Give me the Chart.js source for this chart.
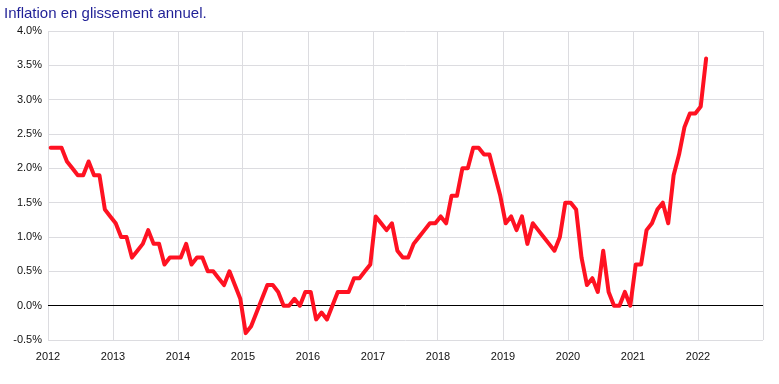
<!DOCTYPE html>
<html lang="fr">
<head>
<meta charset="utf-8">
<title>Inflation en glissement annuel</title>
<script src="https://cdn.jsdelivr.net/npm/chart.js@4.4.1/dist/chart.umd.min.js"></script>
<style>
  html, body { margin: 0; padding: 0; background: #fff; }
  #wrap { width: 779px; height: 384px; }
</style>
</head>
<body>
<div id="wrap"><canvas id="chart"></canvas></div>
<script>
// Inflation en glissement annuel (%), un chiffre par mois, janvier 2012 -> février 2022
const inflation2012 = [2.3, 2.3, 2.3, 2.1, 2.0, 1.9, 1.9, 2.1, 1.9, 1.9, 1.4, 1.3];
const inflation2013 = [1.2, 1.0, 1.0, 0.7, 0.8, 0.9, 1.1, 0.9, 0.9, 0.6, 0.7, 0.7];
const inflation2014 = [0.7, 0.9, 0.6, 0.7, 0.7, 0.5, 0.5, 0.4, 0.3, 0.5, 0.3, 0.1];
const inflation2015 = [-0.4, -0.3, -0.1, 0.1, 0.3, 0.3, 0.2, 0.0, 0.0, 0.1, 0.0, 0.2];
const inflation2016 = [0.2, -0.2, -0.1, -0.2, 0.0, 0.2, 0.2, 0.2, 0.4, 0.4, 0.5, 0.6];
const inflation2017 = [1.3, 1.2, 1.1, 1.2, 0.8, 0.7, 0.7, 0.9, 1.0, 1.1, 1.2, 1.2];
const inflation2018 = [1.3, 1.2, 1.6, 1.6, 2.0, 2.0, 2.3, 2.3, 2.2, 2.2, 1.9, 1.6];
const inflation2019 = [1.2, 1.3, 1.1, 1.3, 0.9, 1.2, 1.1, 1.0, 0.9, 0.8, 1.0, 1.5];
const inflation2020 = [1.5, 1.4, 0.7, 0.3, 0.4, 0.2, 0.8, 0.2, 0.0, 0.0, 0.2, 0.0];
const inflation2021 = [0.6, 0.6, 1.1, 1.2, 1.4, 1.5, 1.2, 1.9, 2.2, 2.6, 2.8, 2.8];
const inflation2022 = [2.9, 3.6];

// Etiquettes des axes
const anneesAxe = ['2012', '2013', '2014', '2015', '2016', '2017', '2018', '2019', '2020', '2021', '2022', ''];
const graduationsY = [-0.5, 0.0, 0.5, 1.0, 1.5, 2.0, 2.5, 3.0, 3.5, 4.0];

const titre = 'Inflation en glissement annuel.';

// Mettre tous les mois bout à bout (x = mois depuis janvier 2012, milieu du mois)
const valeurs = [].concat(
    inflation2012, inflation2013, inflation2014, inflation2015, inflation2016, inflation2017,
    inflation2018, inflation2019, inflation2020, inflation2021, inflation2022
);
const points = valeurs.map((v, i) => ({ x: i + 0.5, y: v }));

const police = "'Liberation Sans', Arial, Helvetica, sans-serif";

const ctx = document.getElementById('chart').getContext('2d');
const myChart = new Chart(ctx, {
    type: 'line',
    data: {
        datasets: [{
            label: 'Inflation',
            data: points,
            borderColor: '#ff1222',
            borderWidth: 4,
            borderJoinStyle: 'round',
            borderCapStyle: 'round',
            pointRadius: 0,
            tension: 0,
            fill: false
        }]
    },
    options: {
        responsive: true,
        maintainAspectRatio: false,
        animation: false,
        layout: {
            padding: { left: 4, right: 16, top: 0, bottom: 0 }
        },
        plugins: {
            legend: { display: false },
            tooltip: { enabled: false },
            title: {
                display: true,
                text: titre,
                align: 'start',
                color: '#1f1f96',
                font: { family: police, size: 15, weight: 'normal' },
                padding: { top: 5, bottom: 8 }
            }
        },
        scales: {
            x: {
                type: 'linear',
                min: 0,
                max: (anneesAxe.length - 1) * 12,
                afterBuildTicks: function(scale) {
                    scale.ticks = anneesAxe.map((_, i) => ({ value: i * 12 }));
                },
                afterFit: function(scale) {
                    scale.height = 44;
                },
                ticks: {
                    autoSkip: false,
                    maxRotation: 0,
                    padding: 10,
                    color: '#111',
                    font: { family: police, size: 11 },
                    callback: function(value) {
                        return anneesAxe[Math.round(value / 12)];
                    }
                },
                grid: {
                    color: '#dcdce0',
                    drawTicks: false
                },
                border: { display: false }
            },
            y: {
                min: graduationsY[0],
                max: graduationsY[graduationsY.length - 1],
                afterBuildTicks: function(scale) {
                    scale.ticks = graduationsY.map(v => ({ value: v }));
                },
                afterFit: function(scale) {
                    scale.width = 44;
                },
                ticks: {
                    padding: 6,
                    color: '#111',
                    font: { family: police, size: 11 },
                    callback: function(value) {
                        return value.toFixed(1) + '%';
                    }
                },
                grid: {
                    drawTicks: false,
                    color: function(context) {
                        return context.tick && context.tick.value === 0 ? '#000' : '#dcdce0';
                    }
                },
                border: { display: false }
            }
        }
    }
});
</script>
</body>
</html>
